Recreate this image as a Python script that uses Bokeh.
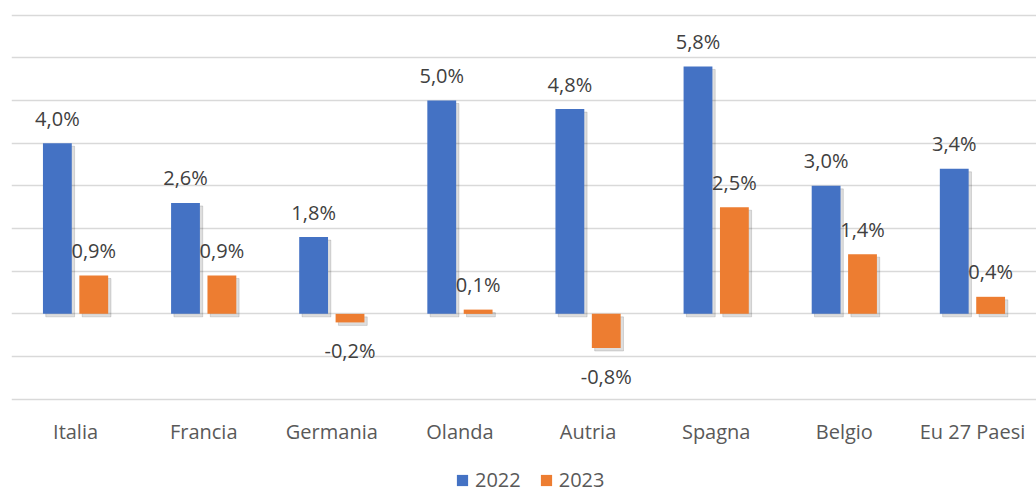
from bokeh.plotting import figure
from bokeh.models import ColumnDataSource, FactorRange, Range1d, FixedTicker, Legend, LegendItem
from bokeh.transform import dodge
from bokeh.core.properties import value
from bokeh.embed import file_html
from bokeh.resources import INLINE

categories = ["Italia", "Francia", "Germania", "Olanda", "Autria", "Spagna", "Belgio", "Eu 27 Paesi"]
v2022 = [4.0, 2.6, 1.8, 5.0, 4.8, 5.8, 3.0, 3.4]
v2023 = [0.9, 0.9, -0.2, 0.1, -0.8, 2.5, 1.4, 0.4]
series = ["2022", "2023"]
colors = ["#4472C4", "#ED7D31"]
y_ticks = [-2, -1, 0, 1, 2, 3, 4, 5, 6, 7]

FONT = "Open Sans"
BAR_W = 0.225
OFFS = [-0.142, 0.142]
SH_X = 0.022     # shadow offset (category units ~3px)
SH_Y = 0.07      # shadow offset (data units ~3px)
TOP_PAD = 0.04   # small pad so the top gridline is drawn
BOTTOM_ROOM = 2.21  # room below lowest gridline for category labels and legend

p = figure(x_range=FactorRange(*categories, range_padding=0),
           y_range=Range1d(y_ticks[0] - BOTTOM_ROOM, y_ticks[-1] + TOP_PAD),
           frame_width=1025, frame_height=480, output_backend="svg", toolbar_location=None,
           x_axis_location=None,
           min_border_left=11, min_border_right=0, min_border_top=13, min_border_bottom=0)
p.outline_line_color = None
p.xgrid.grid_line_color = None
p.ygrid.ticker = FixedTicker(ticks=y_ticks)
p.ygrid.grid_line_color = "#d9d9d9"
p.ygrid.grid_line_width = 1.5
p.yaxis.visible = False

# category labels (below the lowest gridline)
cat_src = ColumnDataSource(dict(cat=categories, base=[y_ticks[0]] * len(categories)))
p.text(x="cat", y="base", text="cat", y_offset=32, source=cat_src,
       text_font=value(FONT), text_font_size="20px", text_color="#595959",
       text_align="center", text_baseline="middle")

renderers = []
for vals, off, col in zip([v2022, v2023], OFFS, colors):
    src = ColumnDataSource(dict(
        cat=categories,
        top=[max(v, 0) for v in vals],
        bot=[min(v, 0) for v in vals],
        stop=[max(v, 0) - SH_Y for v in vals],
        sbot=[min(v, 0) - SH_Y for v in vals],
        y=vals,
        lab=[("%.1f%%" % v).replace(".", ",") for v in vals],
        yoff=[-25 if v >= 0 else 28 for v in vals],
    ))
    p.vbar(x=dodge("cat", off + SH_X, range=p.x_range), top="stop", bottom="sbot",
           width=BAR_W, color="#000000", alpha=0.13, source=src)
    r = p.vbar(x=dodge("cat", off, range=p.x_range), top="top", bottom="bot",
               width=BAR_W, color=col, line_color=None, source=src)
    renderers.append(r)
    p.text(x=dodge("cat", off, range=p.x_range), y="y", text="lab", y_offset="yoff",
           text_font=value(FONT), text_font_size="20px", text_color="#404040",
           text_align="center", text_baseline="middle", source=src)

legend = Legend(items=[LegendItem(label=s, renderers=[r]) for s, r in zip(series, renderers)],
                orientation="horizontal", location=(444, 0),
                label_text_font=FONT, label_text_font_size="20px", label_text_color="#595959",
                glyph_width=14, glyph_height=14, label_standoff=6, spacing=18,
                border_line_color=None, background_fill_alpha=0, padding=0, margin=0)
p.add_layout(legend, "center")

open("out.html", "w").write(file_html(p, INLINE))
